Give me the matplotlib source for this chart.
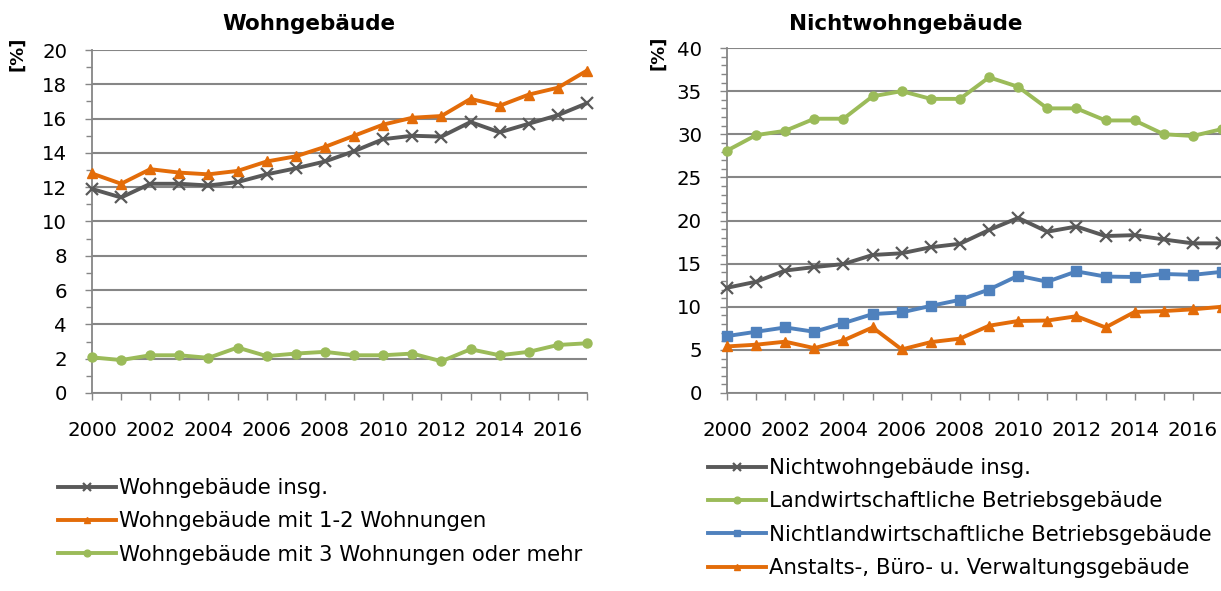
import matplotlib
matplotlib.use("Agg")
import matplotlib.pyplot as plt
from matplotlib.ticker import MultipleLocator

plt.rcParams['font.family'] = ['DejaVu Sans']

years = list(range(2000, 2018))

# Wohngebäude
wg_insg = [11.9, 11.4, 12.2, 12.2, 12.1, 12.3, 12.75, 13.1, 13.5, 14.1, 14.8, 15.0, 14.95, 15.8, 15.2, 15.7, 16.2, 16.9]
wg_1_2 = [12.8, 12.2, 13.05, 12.85, 12.75, 12.95, 13.5, 13.8, 14.35, 15.0, 15.65, 16.05, 16.15, 17.15, 16.75, 17.4, 17.8, 18.8]
wg_3plus = [2.08, 1.92, 2.2, 2.2, 2.05, 2.65, 2.15, 2.3, 2.4, 2.2, 2.2, 2.3, 1.85, 2.55, 2.2, 2.4, 2.8, 2.9]

# Nichtwohngebäude
nwg_insg = [12.2, 12.9, 14.2, 14.6, 14.95, 16.0, 16.2, 16.9, 17.3, 18.9, 20.3, 18.7, 19.3, 18.2, 18.3, 17.8, 17.35, 17.35]
landw = [28.1, 29.9, 30.4, 31.8, 31.8, 34.4, 35.0, 34.1, 34.1, 36.6, 35.5, 33.0, 33.0, 31.6, 31.6, 30.0, 29.8, 30.6]
nichtlandw = [6.6, 7.1, 7.6, 7.1, 8.1, 9.15, 9.35, 10.1, 10.8, 12.0, 13.6, 12.9, 14.1, 13.5, 13.45, 13.8, 13.7, 14.05]
anstalts = [5.4, 5.6, 5.95, 5.2, 6.1, 7.6, 5.05, 5.9, 6.3, 7.8, 8.35, 8.4, 8.9, 7.6, 9.4, 9.5, 9.7, 10.0]

title_left = "Wohngebäude"
title_right = "Nichtwohngebäude"
labels_left = ["Wohngebäude insg.", "Wohngebäude mit 1-2 Wohnungen", "Wohngebäude mit 3 Wohnungen oder mehr"]
labels_right = ["Nichtwohngebäude insg.", "Landwirtschaftliche Betriebsgebäude",
                "Nichtlandwirtschaftliche Betriebsgebäude", "Anstalts-, Büro- u. Verwaltungsgebäude"]

GRAY = "#595959"
ORANGE = "#E36C09"
GREEN = "#9BBB59"
BLUE = "#4F81BD"
AXC = "#868686"

W, H = 1221, 591
fig = plt.figure(figsize=(W / 100, H / 100), dpi=100)

def px_axes(x0, x1, ytop, ybot):
    return fig.add_axes([x0 / W, (H - ybot) / H, (x1 - x0) / W, (ybot - ytop) / H])

axL = px_axes(92, 587, 50, 393)
axR = px_axes(727, 1222, 48, 393)

FS = 14.2
LFS = 15.3
LW = 2.8
MS = 6.5

def style(ax, ymax, major):
    ax.set_xlim(2000, 2017)
    ax.set_ylim(0, ymax)
    ax.yaxis.set_major_locator(MultipleLocator(major))
    ax.yaxis.set_minor_locator(MultipleLocator(1))
    ax.set_xticks(years)
    ax.set_xticklabels([str(y) if y % 2 == 0 else "" for y in years])
    for s in ["top", "right"]:
        ax.spines[s].set_visible(False)
    for s in ["left", "bottom"]:
        ax.spines[s].set_color(AXC)
        ax.spines[s].set_linewidth(1.3)
    ax.grid(axis="y", which="major", color=AXC, linewidth=1.5)
    ax.set_axisbelow(True)
    ax.tick_params(axis="y", which="major", direction="out", length=5, width=1, color=AXC,
                   labelsize=FS, pad=13)
    ax.tick_params(axis="y", which="minor", direction="out", length=4, width=1, color=AXC)
    ax.tick_params(axis="x", which="major", direction="out", length=5, width=1, color=AXC,
                   labelsize=FS, pad=15)

style(axL, 20, 2)
style(axR, 40, 5)

hl = []
hl.append(axL.plot(years, wg_insg, color=GRAY, lw=LW, marker="x", ms=MS + 1.5, mew=1.6, clip_on=False, zorder=3)[0])
hl.append(axL.plot(years, wg_1_2, color=ORANGE, lw=LW, marker="^", ms=MS, clip_on=False, zorder=3)[0])
hl.append(axL.plot(years, wg_3plus, color=GREEN, lw=LW, marker="o", ms=MS, clip_on=False, zorder=3)[0])

hr = []
hr.append(axR.plot(years, nwg_insg, color=GRAY, lw=LW, marker="x", ms=MS + 1.5, mew=1.6, clip_on=False, zorder=3)[0])
hr.append(axR.plot(years, landw, color=GREEN, lw=LW, marker="o", ms=MS, clip_on=False, zorder=3)[0])
hr.append(axR.plot(years, nichtlandw, color=BLUE, lw=LW, marker="s", ms=MS, clip_on=False, zorder=3)[0])
hr.append(axR.plot(years, anstalts, color=ORANGE, lw=LW, marker="^", ms=MS, clip_on=False, zorder=3)[0])

fig.text(309 / W, 1 - 24 / H, title_left, ha="center", va="center", fontsize=15.5, fontweight="bold")
fig.text(906 / W, 1 - 24 / H, title_right, ha="center", va="center", fontsize=15.5, fontweight="bold")
fig.text(17 / W, 1 - 54 / H, "[%]", ha="center", va="center", rotation=90, fontsize=13, fontweight="bold")
fig.text(658 / W, 1 - 53 / H, "[%]", ha="center", va="center", rotation=90, fontsize=13, fontweight="bold")

legkw = dict(frameon=False, fontsize=LFS, handlelength=2.75, handletextpad=0.12, labelspacing=0.63,
             borderpad=0, borderaxespad=0, markerscale=0.75, bbox_transform=fig.transFigure, loc="upper left")
fig.legend(hl, labels_left, bbox_to_anchor=(58 / W, 1 - 478 / H), **legkw)
fig.legend(hr, labels_right, bbox_to_anchor=(708 / W, 1 - 458 / H), **legkw)

fig.savefig("out.png", dpi=100)
